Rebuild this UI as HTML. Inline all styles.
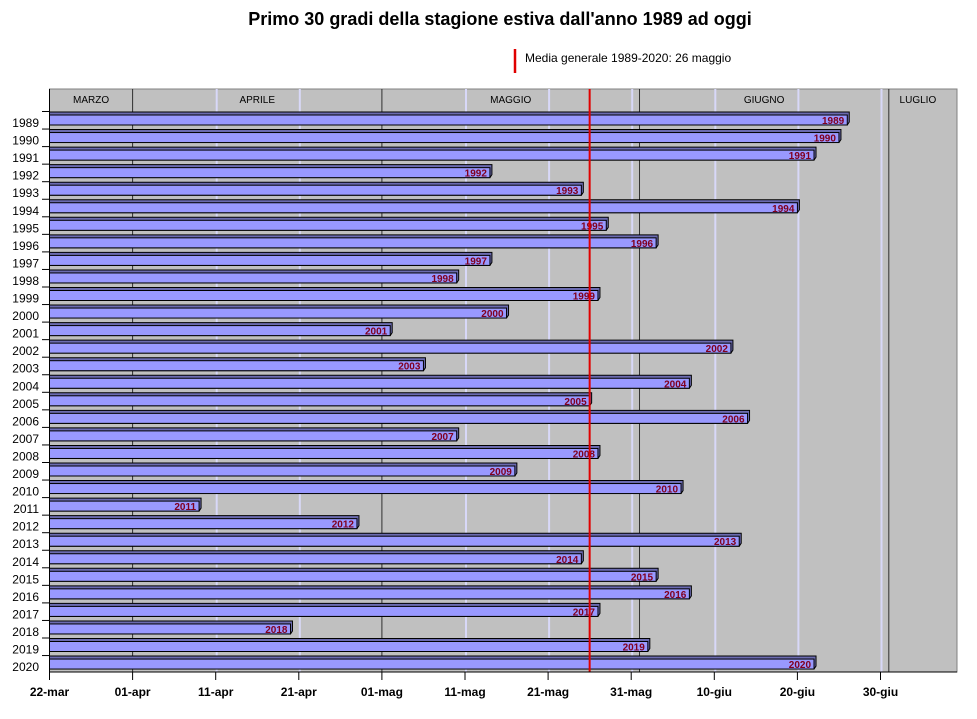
<!DOCTYPE html>
<html><head><meta charset="utf-8">
<style>
body{margin:0;background:#fff;width:977px;height:714px;overflow:hidden;font-family:"Liberation Sans",sans-serif;}
svg text{font-family:"Liberation Sans",sans-serif;}
</style></head>
<body>
<svg id="chart" width="977" height="714" xmlns="http://www.w3.org/2000/svg">
<text x="500" y="25" text-anchor="middle" font-size="18" font-weight="bold">Primo 30 gradi della stagione estiva dall'anno 1989 ad oggi</text>
<g>
<line x1="515" y1="49" x2="515" y2="73" stroke="#e00000" stroke-width="2.5"/>
<text x="525" y="62" font-size="12">Media generale 1989-2020: 26 maggio</text>
</g>
<g id="plot"></g>
</svg>
<script>
const years = ["1989","1990","1991","1992","1993","1994","1995","1996","1997","1998","1999","2000","2001","2002","2003","2004","2005","2006","2007","2008","2009","2010","2011","2012","2013","2014","2015","2016","2017","2018","2019","2020"];
const daysFrom22Mar = [96,95,92,53,64,90,67,73,53,49,66,55,41,82,45,77,65,84,49,66,56,76,18,37,83,64,73,77,66,29,72,92];
const tickLabels = ["22-mar","01-apr","11-apr","21-apr","01-mag","11-mag","21-mag","31-mag","10-giu","20-giu","30-giu"];
const tickDays = [0,10,20,30,40,50,60,70,80,90,100];
const monthNames = ["MARZO","APRILE","MAGGIO","GIUGNO","LUGLIO"];
const monthStarts = [0,10,40,71,101];
const monthEnds = [10,40,71,101,108];
const meanDay = 65;

const NS="http://www.w3.org/2000/svg";
const plot=document.getElementById('plot');
const X0=49.5, PX=8.31, TOP=89, BOTTOM=672, RIGHT=957, ROW0=112, ROWH=17.55;
const xs=d=>X0+d*PX;
const ys=i=>ROW0+i*ROWH;
function mk(tag,attrs){const e=document.createElementNS(NS,tag);for(const k in attrs)e.setAttribute(k,attrs[k]);plot.appendChild(e);return e;}

let bg=mk('rect',{x:X0,y:TOP,width:RIGHT-X0,height:BOTTOM-TOP,fill:'#c0c0c0',stroke:'#808080'});



// light 10-day gridlines
tickDays.forEach(d=>{
  if(monthStarts.includes(d)||d===0)return;
  let l=mk('line',{x1:xs(d)+1,y1:TOP,x2:xs(d)+1,y2:BOTTOM,stroke:'#d8d8f8','stroke-width':2});
  
  
});
// month boundary lines
monthStarts.forEach((d,i)=>{
  if(d===0)return;
  let l=mk('line',{x1:xs(d),y1:TOP,x2:xs(d),y2:BOTTOM,stroke:'#303030','stroke-width':1});
  
  
});
monthNames.forEach((m,i)=>{
  let t=mk('text',{x:(xs(monthStarts[i])+xs(Math.min(monthEnds[i],108)))/2,y:TOP+14,'text-anchor':'middle','font-size':10});
  t.textContent=m;
  
  
});

// bars
years.forEach((y,i)=>{
  const top=ys(i), w=xs(daysFrom22Mar[i])-X0;
  let g=mk('g',{});
  
  
  const t=document.createElementNS(NS,'polygon');
  t.setAttribute('points',`${X0},${top} ${X0+w+2},${top} ${X0+w+2},${top+10} ${X0+w},${top+13} ${X0},${top+13}`);
  t.setAttribute('fill','#6b6bb0');t.setAttribute('stroke','#000');t.setAttribute('stroke-width','1');
  g.appendChild(t);
  const f=document.createElementNS(NS,'rect');
  f.setAttribute('x',X0);f.setAttribute('y',top+3);f.setAttribute('width',w);f.setAttribute('height',10);
  f.setAttribute('fill','#9999ff');f.setAttribute('stroke','#000');f.setAttribute('stroke-width','1');
  g.appendChild(f);
  const lb=document.createElementNS(NS,'text');
  lb.setAttribute('x',X0+w-3);lb.setAttribute('y',top+12);lb.setAttribute('text-anchor','end');
  lb.setAttribute('font-size','10');lb.setAttribute('font-weight','bold');lb.setAttribute('fill','#800020');
  lb.textContent=y;
  
  
  g.appendChild(lb);
  let yl=mk('text',{x:39,y:top+15,'text-anchor':'end','font-size':12});
  yl.textContent=y;
  
  
  let tk=mk('line',{x1:42,y1:top-0.5,x2:X0,y2:top-0.5,stroke:'#000'});
  
  
});

// mean line
let ml=mk('line',{x1:xs(meanDay),y1:TOP,x2:xs(meanDay),y2:BOTTOM,stroke:'#e00000','stroke-width':2});



// axes
let ya=mk('line',{x1:X0,y1:TOP,x2:X0,y2:BOTTOM,stroke:'#000'});


let xa=mk('line',{x1:X0,y1:BOTTOM,x2:RIGHT,y2:BOTTOM,stroke:'#000'});


tickDays.forEach((d,i)=>{
  let tk=mk('line',{x1:xs(d),y1:BOTTOM,x2:xs(d),y2:BOTTOM+8,stroke:'#000'});
  
  
  let t=mk('text',{x:xs(d),y:BOTTOM+24,'text-anchor':'middle','font-size':12,'font-weight':'bold'});
  t.textContent=tickLabels[i];
  
  
});
</script>
</body></html>
